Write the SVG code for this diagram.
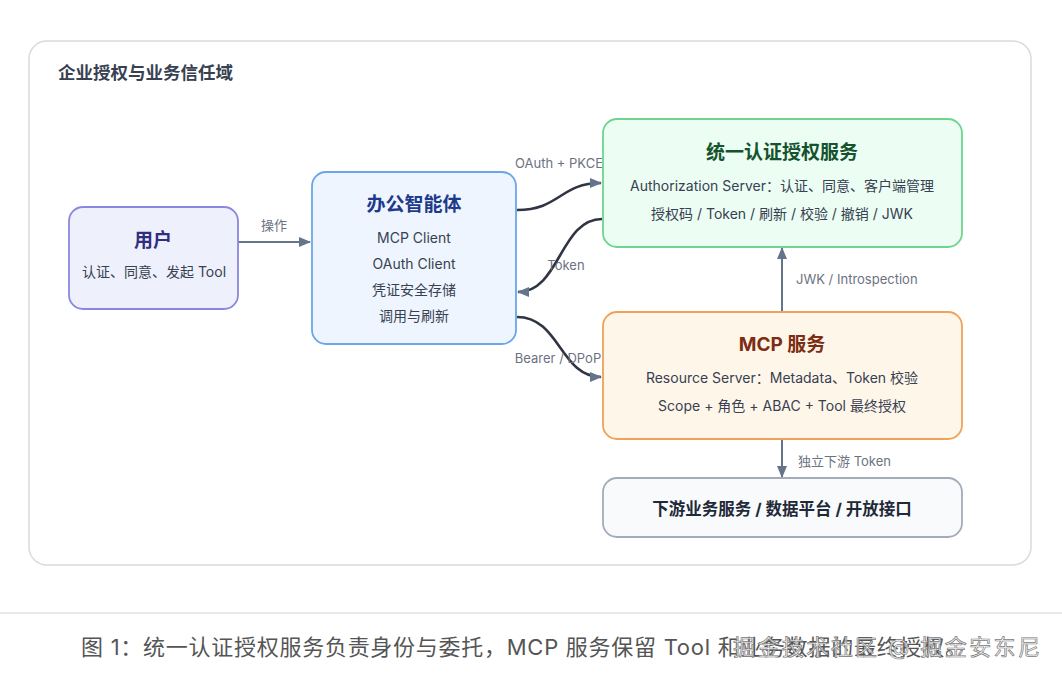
<svg xmlns="http://www.w3.org/2000/svg" width="1062" height="676" viewBox="0 0 1062 676">
<defs>
<marker id="arr" viewBox="0 0 12 10" refX="11" refY="5" markerWidth="12" markerHeight="10" markerUnits="userSpaceOnUse" orient="auto">
<path d="M0,0 L12,5 L0,10 z" fill="#64748b"/>
</marker>
<style>
text{font-family:Inter,"Noto Sans CJK SC","Noto Sans",sans-serif}
.title{font-size:19px;font-weight:700;text-anchor:middle}
.line{font-size:14px;fill:#374151;text-anchor:middle}
.elabel{font-size:13px;fill:#6b7280}
.edge{fill:none;stroke:#64748b;stroke-width:2}
.curve{fill:none;stroke:#2f3542;stroke-width:2.6}
.node{stroke-width:1.8}
</style>
</defs>
<rect width="1062" height="676" fill="#ffffff"/>
<g id="domain">
<rect x="29" y="41" width="1002" height="524" rx="18" fill="#ffffff" stroke="#d7dae1" stroke-width="1.5"/>
<text x="58" y="79" font-size="17.5" font-weight="700" fill="#374151">企业授权与业务信任域</text>
</g>
<g id="connectors">
<line class="edge" x1="238" y1="242" x2="310" y2="242" marker-end="url(#arr)"/>
<text class="elabel" x="274" y="230" text-anchor="middle">操作</text>
<path class="curve" d="M517,210 C560,210 560,183 601,183" marker-end="url(#arr)"/>
<text class="elabel" x="559" y="168" text-anchor="middle">OAuth + PKCE</text>
<path class="curve" d="M602,219 C560,219 560,292 518,292" marker-end="url(#arr)"/>
<text class="elabel" x="566" y="270" text-anchor="middle">Token</text>
<path class="curve" d="M517,317 C560,317 560,377 601,377" marker-end="url(#arr)"/>
<text class="elabel" x="558" y="363" text-anchor="middle">Bearer / DPoP</text>
<line class="edge" x1="782" y1="311" x2="782" y2="248" marker-end="url(#arr)"/>
<text class="elabel" x="796" y="284">JWK / Introspection</text>
<line class="edge" x1="782" y1="440" x2="782" y2="477" marker-end="url(#arr)"/>
<text class="elabel" x="798" y="466">独立下游 Token</text>
</g>
<g id="user">
<rect class="node" x="69" y="207" width="169" height="102" rx="14" fill="#eef0fc" stroke="#8b87e0"/>
<text class="title" x="153" y="247" fill="#312e81">用户</text>
<text class="line" x="154" y="277">认证、同意、发起 Tool</text>
</g>
<g id="agent">
<rect class="node" x="312" y="172" width="204" height="172" rx="14" fill="#eef5fe" stroke="#6aa6e8"/>
<text class="title" x="414" y="211" fill="#1e3a8a">办公智能体</text>
<text class="line" x="414" y="243">MCP Client</text>
<text class="line" x="414" y="269">OAuth Client</text>
<text class="line" x="414" y="295">凭证安全存储</text>
<text class="line" x="414" y="321">调用与刷新</text>
</g>
<g id="auth">
<rect class="node" x="603" y="119" width="359" height="128" rx="14" fill="#ecfdf3" stroke="#6dd58f"/>
<text class="title" x="782" y="159" fill="#14532d">统一认证授权服务</text>
<text class="line" x="782" y="191">Authorization Server：认证、同意、客户端管理</text>
<text class="line" x="782" y="219">授权码 / Token / 刷新 / 校验 / 撤销 / JWK</text>
</g>
<g id="mcp">
<rect class="node" x="603" y="312" width="359" height="127" rx="14" fill="#fff6ea" stroke="#f0a15a"/>
<text class="title" x="782" y="351" fill="#7c2d12">MCP 服务</text>
<text class="line" x="782" y="383">Resource Server：Metadata、Token 校验</text>
<text class="line" x="782" y="411">Scope + 角色 + ABAC + Tool 最终授权</text>
</g>
<g id="downstream">
<rect class="node" x="603" y="478" width="359" height="59" rx="14" fill="#f8fafc" stroke="#a3acb9"/>
<text x="782" y="515" font-size="16.5" font-weight="700" fill="#1f2937" text-anchor="middle">下游业务服务 / 数据平台 / 开放接口</text>
</g>
<g id="caption">
<line x1="0" y1="613" x2="1062" y2="613" stroke="#e2e2e2" stroke-width="1.5"/>
<text x="81" y="655" font-size="22" fill="#555555" textLength="886" lengthAdjust="spacing">图 1：统一认证授权服务负责身份与委托，MCP 服务保留 Tool 和业务数据的最终授权。</text>
<text x="733" y="655" font-size="22" fill="#f4f4f4" fill-opacity="0.85" stroke="#7a7a7a" stroke-width="0.7" textLength="307" lengthAdjust="spacing">掘金技术社区 @ 掘金安东尼</text>
</g>
</svg>
